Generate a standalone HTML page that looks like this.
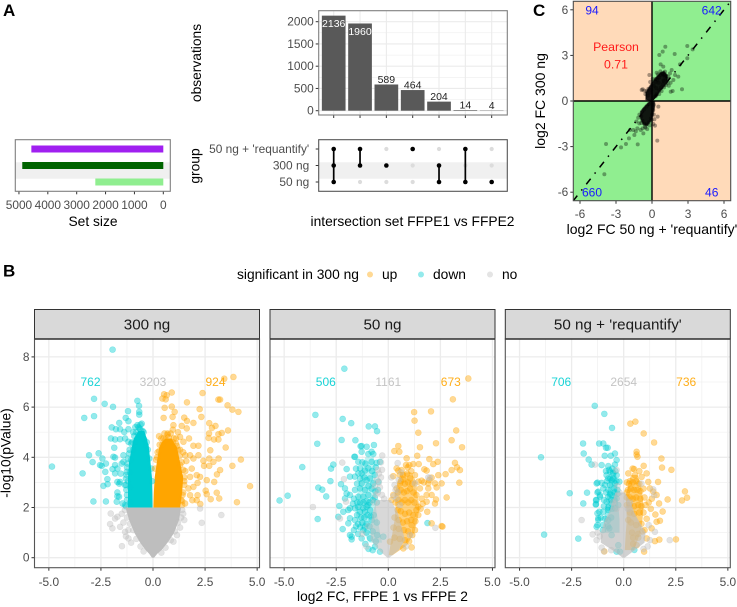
<!DOCTYPE html>
<html lang="en">
<head>
<meta charset="utf-8">
<title>FFPE proteomics comparison figure</title>
<style>
html,body{margin:0;padding:0;background:#fff;}
svg{display:block;font-family:"Liberation Sans",Arial,sans-serif;}
.tick{fill:#4d4d4d;font-size:11.9px;}
.title{fill:#000;font-size:13.8px;}
.tag{fill:#000;font-size:17px;font-weight:bold;}
.strip{fill:#1a1a1a;font-size:15.2px;}
</style>
</head>
<body>
<svg id="figure" width="737" height="607" viewBox="0 0 737 607" xmlns="http://www.w3.org/2000/svg">
  <defs>
    <clipPath id="clip-c"><rect x="573.3" y="1.3" width="157.4" height="199.4"/></clipPath>
  </defs>
  <rect width="737" height="607" fill="#fff"/>

  <text class="tag" x="3" y="16">A</text>
  <text class="tag" x="3" y="276.7">B</text>
  <text class="tag" x="533" y="16">C</text>

  <g id="upset-bars"></g>
  <text class="title" transform="translate(201,63) rotate(-90)" text-anchor="middle">observations</text>

  <g id="upset-matrix"></g>
  <text class="title" transform="translate(199.5,166) rotate(-90)" text-anchor="middle">group</text>
  <text class="title" x="412.5" y="226" text-anchor="middle">intersection set FFPE1 vs FFPE2</text>

  <g id="set-size"></g>
  <text class="title" x="93" y="226" text-anchor="middle">Set size</text>

  <g id="scatter-c"></g>
  <text class="title" transform="translate(545,101) rotate(-90)" text-anchor="middle" style="font-size:14px">log2 FC 300 ng</text>
  <text class="title" x="652" y="234" text-anchor="middle" style="font-size:14px">log2 FC 50 ng + 'requantify'</text>

  <g>
    <text class="title" x="237" y="279">significant in 300 ng</text>
    <circle cx="370" cy="274.5" r="3" fill="#ffa500" fill-opacity=".42"/>
    <text class="title" x="382" y="279">up</text>
    <circle cx="421" cy="274.5" r="3" fill="#00ced1" fill-opacity=".42"/>
    <text class="title" x="433" y="279">down</text>
    <circle cx="490" cy="274.5" r="3" fill="#bebebe" fill-opacity=".42"/>
    <text class="title" x="502" y="279">no</text>
  </g>

  <g>
    <rect x="34.5" y="309.5" width="225" height="29.5" fill="#d9d9d9" stroke="#333" stroke-width="1"/>
    <text class="strip" x="147" y="329.5" text-anchor="middle">300 ng</text>
  </g>
  <g>
    <rect x="270" y="309.5" width="225" height="29.5" fill="#d9d9d9" stroke="#333" stroke-width="1"/>
    <text class="strip" x="382.5" y="329.5" text-anchor="middle">50 ng</text>
  </g>
  <g>
    <rect x="505.3" y="309.5" width="225" height="29.5" fill="#d9d9d9" stroke="#333" stroke-width="1"/>
    <text class="strip" x="617.8" y="329.5" text-anchor="middle">50 ng + 'requantify'</text>
  </g>

  <g id="volcano-1"></g>
  <g id="volcano-2"></g>
  <g id="volcano-3"></g>

  <text class="title" transform="translate(10.5,453) rotate(-90)" text-anchor="middle">-log10(pValue)</text>
  <text class="title" x="382.5" y="601" text-anchor="middle">log2 FC, FFPE 1 vs FFPE 2</text>
</svg>

<script>
// ---------- Panel A data ----------
const upsetValues = [2136, 1960, 589, 464, 204, 14, 4];
const upsetYTicks = [0, 500, 1000, 1500, 2000];
const groupNames = ["50 ng + 'requantify'", "300 ng", "50 ng"];
const upsetMembership = [[0,1,2],[0,1],[1],[0],[1,2],[0,2],[2]];
const setSizes = [4570, 4885, 2355];
const setColors = ['#a020f0', '#006400', '#90ee90'];
const setSizeTicks = [5000, 4000, 3000, 2000, 1000, 0];

// ---------- Panel C data ----------
const scatterTicks = [-6, -3, 0, 3, 6];
const quadrantCounts = [94, 642, 660, 46];
const pearsonLabel = 'Pearson';
const pearsonValue = '0.71';
const scatterPoints = [[1.11,3.57],[.61,3.03],[.89,3.25],[1.89,3.09],[2.94,3.62],[3.39,3.4],[2.33,2.41],[2.94,2.81],[2.5,.77],[1.56,.61],[1.72,.66],[2.19,1.6],[1.92,1.71],[1.5,1.82],[1.64,2.04],[.72,2.41],[.94,2.26],[.39,1.86],[1.08,1.93],[1.36,1.6],[1.78,1.38],[-.86,.72],[-.64,.68],[-.78,.77],[-.22,1.71],[-3.83,-2.83],[-3.97,-4.82],[-2.58,-3.05],[-2.17,-2.83],[-1.19,-2.85],[-1.92,-2.46],[-1.47,-2.24],[-1.56,-1.91],[-1.22,-1.8],[-.72,-2.13],[-.78,-1.8],[.44,-2.61],[.47,-1.03],[.25,-1.62],[.11,-1.51],[.53,-.37],[-1.83,-1.91],[-1.06,-1.47],[-.94,-1.91],[-.58,-1.69],[-.03,-1.25],[-1.3,-1.35],[-1.15,-1.1],[-.9,-1.45],[-.4,-1.85],[-.2,-1.6],[-1.35,-2.0],[.15,-.9],[.2,-1.2],[-.55,.45],[-.45,.65],[-.3,.8],[-.15,1.25],[.05,1.45],[.3,1.45],[.5,1.75],[.7,1.95],[.85,1.8],[1.05,1.7],[1.2,1.45],[1.3,1.2],[1.15,1.05],[1.0,.9],[.8,.65],[.6,.45],[1.4,1.0],[1.55,1.2],[.95,1.35],[.35,.35],[-.35,.35],[-.2,.55],[-.05,.75],[.15,1.0],[.3,1.25],[.45,1.4],[.6,1.55],[.75,1.7],[.9,1.75],[1.05,1.6],[1.2,1.65],[1.3,1.45],[.9,1.1],[.75,.9],[.6,.7],[.4,.45],[.25,.3],[1.0,1.3],[.55,1.2],[.35,.85],[-.9,-1.0],[-.8,-1.3],[-.65,-1.5],[-.45,-1.55],[-.25,-1.4],[-.1,-1.15],[-.65,-.55],[-.45,-.35],[-.25,-.2],[0,-.9],[.1,-.6],[.15,-.25],[-1.05,-.9],[-.55,-1.75]];
const scatterCoreUpperFc = [-.5, -.2, .1, .4, .7, 1.0, 1.25];
const scatterCoreUpperLow = [.1, .02, .1, .35, .7, .95, 1.2];
const scatterCoreUpperHigh = [.55, .95, 1.3, 1.6, 1.85, 1.95, 1.7];
const scatterCoreLowerFc = [-.95, -.7, -.4, -.15, .05, .2];
const scatterCoreLowerLow = [-1.15, -1.55, -1.6, -1.35, -1, -.4];
const scatterCoreLowerHigh = [-.7, -.45, -.2, -.02, 0, -.05];

// ---------- Panel B data ----------
const volcanoXTicks = [-5, -2.5, 0, 2.5, 5];
const volcanoYTicks = [0, 2, 4, 6, 8];
const countsPanel1 = ['762', '3203', '924'];
const countsPanel2 = ['506', '1161', '673'];
const countsPanel3 = ['706', '2654', '736'];

const p1Down = [[-1.94,8.29],[-2.83,6.33],[-2.32,6.13],[-1.92,6.01],[-3.3,5.57],[-2.83,5.64],[-4.85,3.63],[-3.38,3.36],[-3.07,4.08],[-2.9,3.81],[-2.61,4.16],[-2.43,3.95],[-2.54,3.69],[-2.46,3.66],[-2.26,3.75],[-2.29,3.42],[-2.19,3.13],[-2.18,2.93],[-2.38,2.86],[-2.86,2.24],[-2.26,2.24],[-1.71,2.6],[-1.71,2.45],[-1.82,3.69],[-1.86,4.38],[-2.02,4.75],[-1.82,4.71],[-1.58,4.72],[-1.98,5.19],[-1.78,5.12],[-1.58,5.12],[-1.62,5.37],[-1.31,5.57],[-1.18,5.44],[-1.2,5.84],[-1.18,5.12],[-1.38,5.01],[-.75,6.25],[-.67,6.05],[-.66,5.81],[-.66,5.7],[-.54,5.34],[-.75,5.28],[-1.9,4.02],[-1.82,3.99],[-1.71,3.55],[-1.94,3.53],[-1.82,3.36],[-1.71,3.02],[-1.58,3.02],[-1.74,2.23],[-1.63,2.43],[-1.42,4.08],[-1.34,4.75],[-1.18,4.62],[-1.42,3.82],[-1.26,3.42],[-1.34,2.89],[-1.46,2.16],[-1.34,2.1],[-1.25,2.3],[-1.28,2.7],[-1.3,3.15],[-1.22,3.75],[-1.15,4.15],[-1.05,4.55],[-.95,5.0],[-.85,5.2],[-.65,5.15],[-.5,5.05],[-.42,4.7],[-.35,4.45],[-1.55,3.35],[-1.5,3.75],[-1.62,2.95],[-1.2,3.05],[-.18,3.95],[-.08,3.55],[-.05,3.05],[-1.3,2.05],[-1.25,2.5],[-1.3,2.9],[-1.28,3.3],[-1.25,3.6],[-1.2,3.95],[-1.12,4.3],[-1.0,4.6],[-.9,4.85],[-.8,5.0],[-.6,5.3],[-.45,5.0],[-.3,4.6],[-.25,4.3],[-1.1,2.2],[-1.1,2.8],[-1.1,3.4],[-1.05,3.9],[-.95,4.3],[-.85,4.6],[-.7,4.9],[-.55,4.8],[-.6,5.1],[-.7,5.2]];
const p1DownCoreP = [2, 2.6, 3.2, 3.8, 4.4, 4.75, 5.05];
const p1DownCoreLeft = [-1.2, -1.2, -1.2, -1.15, -1.02, -.92, -.7];
const p1DownCoreRight = [-.02, -.03, -.05, -.12, -.2, -.3, -.42];
const p1Up = [[3.86,7.2],[3.42,7.13],[.9,6.58],[.53,6.51],[2.38,6.56],[.45,6.34],[.61,6.31],[.66,6.47],[1.63,6.19],[3.14,6.3],[3.22,6.3],[2.24,5.92],[3.58,6.07],[3.81,5.9],[4.1,5.81],[.56,5.97],[.9,6.02],[1.04,5.81],[.94,5.61],[.51,5.57],[2.32,5.61],[1.5,5.58],[1.63,5.45],[1.94,5.37],[1.38,5.25],[.98,5.28],[2.7,5.36],[3.0,5.25],[2.83,5.17],[3.6,5.07],[2.69,4.95],[3.14,4.92],[3.3,4.97],[2.67,4.77],[2.93,4.71],[3.14,4.71],[.29,4.84],[1.62,5.15],[1.73,4.75],[1.94,4.46],[2.18,4.46],[3.49,4.39],[2.75,4.28],[3.15,3.95],[4.22,3.91],[2.7,3.95],[2.42,3.86],[2.45,3.66],[2.7,3.66],[2.9,3.82],[3.22,3.49],[3.07,3.32],[3.81,3.66],[2.18,4.08],[1.94,3.95],[1.78,4.08],[1.55,4.08],[1.86,3.55],[2.1,3.29],[2.26,3.22],[2.58,3.09],[2.14,2.98],[1.94,2.82],[1.78,3.22],[2.94,3.02],[4.66,2.85],[2.53,2.67],[2.58,2.53],[3.06,2.59],[3.18,2.36],[2.77,2.33],[4.03,2.21],[2.27,2.14],[2.14,2.49],[2.1,2.29],[1.78,2.49],[1.89,2.29],[1.54,2.16],[1.7,2.76],[1.46,4.62],[1.3,4.81],[1.2,5.0],[1.1,4.75],[.95,5.1],[.7,4.95],[.5,4.75],[1.45,4.2],[1.6,3.85],[1.55,3.45],[1.5,3.05],[1.45,2.6],[1.4,2.25],[.2,4.0],[1.15,4.45],[1.3,4.3],[.1,3.55],[.15,3.9],[.22,4.2],[.32,4.5],[.4,4.75],[.55,4.95],[.7,4.9],[.85,4.95],[1.0,4.75],[1.1,4.55],[1.2,4.3],[1.28,4.05],[1.38,3.8],[1.45,3.5],[1.5,3.2],[1.5,2.9],[1.42,2.5],[1.4,2.1],[1.35,2.3],[1.3,3.7],[.95,4.6],[.75,4.8],[.6,4.7],[.45,4.5],[.3,4.25]];
const p1UpCoreP = [2, 2.6, 3.2, 3.6, 4, 4.4, 4.6, 4.75];
const p1UpCoreLeft = [.02, .04, .08, .15, .22, .3, .42, .6];
const p1UpCoreRight = [1.3, 1.4, 1.45, 1.35, 1.25, 1.15, 1.0, .9];
const p1No = [[-2.03,1.76],[-2.06,1.34],[-1.95,1.17],[-1.49,.46],[-1.71,1.63],[-1.58,1.23],[-1.82,1.56],[-1.34,1.03],[-1.18,1.1],[2.26,1.96],[2.34,1.39],[3.28,1.7],[.98,.64],[-1.18,.77],[-1.5,1.75],[-1.42,1.4],[-1.3,.85],[-1.05,.6],[1.45,1.75],[1.5,1.5],[1.3,1.2],[1.15,.9],[-1.35,1.9],[-1.25,1.6],[-1.1,1.35],[-.95,1.1],[-.8,.75],[-.6,.45],[-.45,.25],[1.4,1.9],[1.35,1.6],[1.2,1.4],[1.05,1.05],[.85,.7],[.6,.4],[.4,.2]];
const p1NoCoreP = [0, .15, .31, .6, .97, 1.5, 2];
const p1NoCoreLeft = [-.05, -.18, -.36, -.62, -.88, -1.15, -1.32];
const p1NoCoreRight = [.05, .2, .42, .7, 1.0, 1.25, 1.35];

const p2Down = [[-2.11,7.53],[-3.5,5.69],[-2.19,5.53],[-1.78,5.36],[-.94,5.23],[-.64,5.23],[-.54,5.04],[-2.24,4.69],[-1.58,4.68],[-3.41,4.54],[-1.33,4.44],[-1.04,4.42],[-4.13,3.61],[-2.64,3.71],[-2.75,3.55],[-2.78,3.05],[-3.36,2.79],[-3.17,2.71],[-2.98,2.44],[-5.22,2.28],[-4.83,2.47],[-3.39,1.54],[-2.27,2.93],[-1.63,4.02],[-1.28,4.22],[-.8,4.22],[-1.6,4.02],[-1.44,3.82],[-1.28,4.45],[-.96,4.13],[-.69,4.49],[-.72,4.13],[-.8,3.82],[-.56,3.78],[-.4,3.82],[-1.36,3.56],[-1.44,3.36],[-1.28,3.36],[-1.12,3.47],[-.96,3.56],[-1.84,3.23],[-1.6,3.23],[-2.0,3.53],[-2.08,2.76],[-2,2.56],[-2.08,2.36],[-1.84,2.5],[-1.6,2.7],[-1.36,2.76],[-1.12,2.7],[-1.44,2.43],[-1.2,2.43],[-.96,2.5],[-.72,2.96],[-.48,3.03],[-1.04,3.09],[-.88,3.16],[-1.28,2.96],[-2.35,2.06],[-1.84,1.97],[-2.16,1.83],[-2.4,1.63],[-1.92,1.9],[-1.6,1.97],[-1.44,2.03],[-1.2,1.97],[-1.04,2.03],[-.88,1.9],[-1.12,1.83],[-1.36,1.83],[-.96,2.1],[-1.84,1.57],[-1.92,1.37],[-1.6,1.5],[-2.19,1.14],[-1.76,.84],[-1.84,.9],[-1.76,.73],[-1.36,1.21],[-1.2,1.1],[-.88,.77],[-1.28,.77],[-.4,.24],[-.64,.44],[-.53,.9],[-.8,1.5],[-1.12,1.24],[-.24,.84],[1.88,1.38],[-1.5,2.2],[-1.35,2.2],[-1.2,2.2],[-1.05,2.25],[-.9,2.2],[-.75,2.3],[-.65,2.4],[-1.5,1.7],[-1.3,1.6],[-1.15,1.6],[-1,1.7],[-.85,1.65],[-.7,1.7],[-1.45,1.35],[-1.25,1.4],[-1.05,1.35],[-.9,1.25],[-1.5,2.95],[-1.35,3.15],[-1.15,3.2],[-.95,2.85],[-.8,2.75],[-.62,2.65],[-.65,3.3],[-.78,3.45],[-.6,3.6],[-1.1,3.75],[-1.25,3.8],[-1.55,3.55],[-1.65,2.35],[-1.7,2.15],[-1.55,1.25],[-1.65,1.1],[-1.45,.95],[-1.05,1.0],[-.75,1.05],[-.6,.65],[-1.1,.55],[-.95,.35],[-.75,.3],[-.55,2.2],[-.5,2.7],[-.55,1.4]];
const p2DownCoreP = [.6, 1, 1.5, 2, 2.5, 3, 3.5, 4];
const p2DownCoreLeft = [-.9, -1.2, -1.5, -1.6, -1.5, -1.4, -1.3, -1.1];
const p2DownCoreRight = [-.3, -.4, -.5, -.6, -.6, -.6, -.6, -.7];
const p2Up = [[3.84,7.14],[3.1,6.31],[1.24,5.8],[2.05,5.83],[1.26,5.46],[3.26,5.07],[1.44,4.98],[3.04,4.68],[2.29,4.56],[3.54,4.4],[1.52,4.4],[.48,4.45],[.29,4.25],[.53,4.22],[.88,3.96],[1.39,4.06],[1.97,3.93],[2.16,3.73],[2.37,3.82],[.85,3.69],[1.01,3.69],[1.2,3.73],[1.46,3.73],[.4,3.56],[.48,3.47],[.24,3.25],[.64,3.49],[.93,3.6],[1.28,3.29],[1.73,3.52],[1.84,3.47],[2.75,3.33],[3.04,3.49],[3.2,3.78],[3.3,3.6],[3.44,3.49],[3.41,2.99],[2.4,3.29],[2.08,3.19],[1.97,3.09],[1.6,3.07],[1.71,3.0],[1.92,2.96],[2.24,2.96],[2.56,2.96],[2.32,2.8],[1.92,2.76],[1.84,2.5],[2.08,2.5],[2.29,2.32],[2.24,2.16],[2.8,2.4],[1.84,2.23],[1.44,3.03],[1.52,2.76],[1.04,3.16],[.72,3.12],[.56,2.96],[.4,2.76],[.24,2.5],[.16,2.3],[1.44,2.03],[1.87,1.83],[2.08,1.37],[2.56,1.26],[1.12,.41],[.72,.37],[.08,.64],[1.28,1.1],[1.44,1.7],[1.12,1.3],[2.6,1.24],[.35,2.2],[.5,2.3],[.65,2.2],[.8,2.3],[.95,2.2],[1.1,2.3],[1.25,2.2],[.45,1.9],[.6,1.85],[.8,1.75],[1,1.8],[1.2,1.7],[.3,1.6],[.5,1.5],[.7,1.4],[.9,1.45],[1.1,1.5],[1.3,1.45],[.25,1.2],[.5,1.15],[.75,1.1],[.95,1.05],[1.15,.9],[.3,.8],[.55,.75],[.8,.7],[1.0,.65],[.45,2.6],[.6,2.7],[.75,2.6],[.9,2.65],[1.05,2.75],[1.2,2.6],[1.35,2.5],[.6,3.05],[.8,2.95],[.95,3.0],[1.15,2.95],[.7,3.3],[.9,3.35],[1.1,3.45],[.55,3.3],[1.6,2.35],[1.65,2.15],[1.55,1.95],[1.35,1.9]];
const p2UpCoreP = [.1, .5, 1, 1.5, 2, 2.5, 3, 3.4];
const p2UpCoreLeft = [.02, .1, .2, .3, .35, .3, .45, .6];
const p2UpCoreRight = [.2, .9, 1.25, 1.4, 1.5, 1.4, 1.35, 1.1];
const p2No = [[-3.62,2.02],[-2.21,3.79],[-2.13,3.13],[-2.03,2.23],[-.29,4.07],[.45,3.77],[-2.32,1.56],[2.26,1.19],[1.92,3.2],[2,3.18],[1.28,2.96],[-.45,3.35],[.15,3.2],[-1.25,.95],[-1.05,.45],[-.95,1.25],[1.05,.9],[.85,.45],[-.5,2.6],[-.4,2.8],[-.45,3.0],[-.35,3.2],[-.55,3.1],[-.3,3.5],[-.5,3.5],[-.35,3.8],[-.65,2.85],[-.6,2.5],[.3,2.9],[.35,2.7],[.45,2.6],[.5,3.1],[.6,3.4],[.25,2.45],[.4,2.35],[-.3,2.5],[-.2,2.35],[-.7,2.2],[.55,2.1]];
const p2NoCoreP = [0, .3, .7, 1.2, 1.8, 2.3];
const p2NoCoreLeft = [-.05, -.45, -.85, -.85, -.75, -.55];
const p2NoCoreRight = [.05, .5, .8, .65, .45, .12];

const p3Down = [[-1.39,6.05],[-.93,5.73],[-.56,5.17],[-1.95,4.55],[-1.18,4.55],[-.98,4.55],[-.85,4.38],[-.77,4.38],[-3.97,4],[-1.92,4.15],[-.91,4.06],[-.62,4.06],[-.42,4.15],[-1.68,3.91],[-1.54,3.71],[-1.06,3.69],[-.42,3.71],[-.34,3.89],[-2.59,2.57],[-1.76,2.59],[-1.3,2.96],[-1.06,2.98],[-1.26,2.6],[-1.14,2.49],[-1.94,2.16],[-1.31,2.29],[-1.34,2.12],[-3.82,.92],[-2.18,.76],[-1.26,1.77],[-1.22,1.5],[-1.3,1.23],[-.74,3.65],[-.66,3.43],[-.82,3.29],[-.5,3.36],[-.74,3.16],[-.58,3.09],[-.34,3.29],[-1.26,2.99],[-.9,2.9],[-.66,2.9],[-.42,2.96],[-.21,3.03],[-.46,2.76],[-.3,2.7],[-.74,2.7],[-.98,2.76],[-1.22,2.63],[-1.14,2.43],[-.74,2.43],[-.58,2.5],[-.34,2.36],[-1.33,2.3],[-1.33,2.14],[-.82,2.23],[-.58,2.16],[-.26,2.1],[-1.17,1.83],[-.98,1.83],[-.74,1.9],[-.42,1.97],[-1.22,1.57],[-1.26,1.3],[-.69,1.17],[-.58,.9],[-.26,.5],[-.34,.24],[-.18,.24],[.51,.31],[-.74,1.5],[-.85,3.45],[-.7,3.5],[-.55,3.55],[-.4,3.45],[-.8,3.05],[-.65,3.15],[-.5,3.15],[-.35,3.05],[-.85,2.6],[-.65,2.55],[-.45,2.6],[-.3,2.55],[-.95,2.3],[-.6,2.3],[-.45,2.3],[-.95,2.05],[-.75,2.0],[-.55,1.95],[-1.1,1.6],[-.9,1.55],[-.6,1.6],[-1.0,1.3],[-.75,1.25],[-1.0,1.1]];
const p3DownCoreP = [1, 1.5, 2, 2.5, 3, 3.5];
const p3DownCoreLeft = [-.9, -.95, -.85, -.8, -.7, -.65];
const p3DownCoreRight = [-.2, -.2, -.25, -.3, -.3, -.4];
const p3Up = [[.32,5.34],[.56,5.42],[.96,4.95],[1.46,4.59],[.62,4.22],[.62,4.11],[.66,4.02],[1.81,3.95],[1.84,3.59],[2.29,3.5],[.96,3.66],[.43,3.55],[.5,3.53],[.75,3.45],[.22,3.36],[.54,3.29],[.86,3.22],[1.1,3.36],[1.65,3.02],[2.94,2.64],[3.04,2.39],[2.8,2.28],[2.11,2.32],[1.87,1.84],[1.7,2.16],[1.58,2.5],[1.42,2.63],[1.26,2.76],[1.18,3.02],[1.52,1.72],[1.74,1.47],[1.58,1.43],[1.34,1.17],[1.71,.72],[1.5,.66],[2.51,.73],[.98,.24],[-.93,.25],[.62,.5],[1.1,.77],[.22,1.5],[1.2,2.2],[1.3,1.95],[1.1,1.55],[1.35,2.35],[.25,2.95],[.15,2.6],[.9,1.05],[.7,.95],[.45,.8],[.15,3.0],[.3,3.05],[.45,3.0],[.6,3.05],[.75,2.95],[.2,2.7],[.35,2.75],[.5,2.7],[.65,2.7],[.8,2.65],[.95,2.75],[.15,2.4],[.3,2.4],[.45,2.35],[.6,2.4],[.8,2.35],[1,2.4],[.15,2.1],[.3,2.1],[.5,2.05],[.7,2.1],[.85,2.05],[1.05,2.1],[.3,1.8],[.5,1.75],[.75,1.8],[.95,1.8],[.35,1.4],[.6,1.3],[.85,1.35],[1.0,1.1],[.4,1.0],[.7,.8],[.45,.55]];
const p3UpCoreP = [.3, 1, 1.5, 2, 2.5, 3, 3.3];
const p3UpCoreLeft = [.05, .1, .15, .12, .1, .25, .35];
const p3UpCoreRight = [.5, .8, .9, .95, .9, .8, .65];
const p3No = [[-2.02,1.5],[-1.49,.93],[-1.3,.7],[2.21,.7],[-1.06,.4],[1.42,2.72],[-.34,3.49],[-1.38,3.71],[1.26,.7],[1.5,1.03],[1.46,2.49],[-1.25,1.0],[-1.15,.85],[.85,2.95],[1.2,1.3],[-.6,.3],[-.3,2.85],[-.2,2.6],[-.5,2.2],[-.35,1.95],[.3,2.2],[.2,1.95],[1.15,.45],[.95,.35],[-.95,.25]];
const p3NoCoreP = [0, .25, .6, 1, 1.5, 1.8, 2.2, 2.6];
const p3NoCoreLeft = [-.05, -.45, -1.1, -1.1, -.9, -.7, -.55, -.4];
const p3NoCoreRight = [.05, .45, 1.0, 1.05, .7, .5, .35, .05];

// ---------- Helpers ----------
const NS = 'http://www.w3.org/2000/svg';
function make(tag, attrs, parent) {
  const el = document.createElementNS(NS, tag);
  for (const k in attrs) el.setAttribute(k, attrs[k]);
  parent.appendChild(el);
  return el;
}
function label(str, attrs, parent) {
  const el = make('text', attrs, parent);
  el.textContent = str;
  return el;
}
function gridLine(parent, x1, y1, x2, y2, w, color) {
  const el = make('line', {x1, y1, x2, y2, stroke: color || '#ebebeb', 'stroke-width': w}, parent);
  
  
}
function tickLine(parent, x1, y1, x2, y2) {
  const el = make('line', {x1, y1, x2, y2, stroke: '#333', 'stroke-width': 1}, parent);
  
  
}
function tickLabel(parent, str, x, y, anchor) {
  const el = label(str, {x, y, 'text-anchor': anchor, class: 'tick'}, parent);
  
  
}
function border(parent, x, y, w, h, color) {
  const el = make('rect', {x, y, width: w, height: h, fill: 'none', stroke: color, 'stroke-width': 1.1}, parent);
  
  
}

// ---------- Upset: bars ----------
(function () {
  const g = document.getElementById('upset-bars');
  const L = 318.7, R = 507.3, T = 10.7, B = 115;
  const xBar = i => 333.7 + i * 26.33;
  const yVal = v => 110.7 - v * 0.0445;
  upsetYTicks.forEach((t, i) => {
    gridLine(g, L, yVal(t), R, yVal(t), 1.1);
    if (i < upsetYTicks.length - 1) gridLine(g, L, yVal(t + 250), R, yVal(t + 250), .5);
  });
  upsetValues.forEach((v, i) => gridLine(g, xBar(i), T, xBar(i), B, 1.1));
  upsetValues.forEach((v, i) => {
    const bar = make('rect', {x: xBar(i) - 11.85, y: yVal(v), width: 23.7, height: Math.max(yVal(0) - yVal(v), .3), fill: '#595959'}, g);
    
    
    const inside = v > 1000;
    const t = label(String(v), {x: xBar(i), y: inside ? yVal(v) + 11.5 : yVal(v) - 1.6, 'text-anchor': 'middle', 'font-size': 10.5, fill: inside ? '#fff' : '#222'}, g);
    
    
  });
  upsetYTicks.forEach(t => {
    tickLine(g, L - 3, yVal(t), L, yVal(t));
    tickLabel(g, String(t), L - 5, yVal(t) + 4, 'end');
  });
  upsetValues.forEach((v, i) => tickLine(g, xBar(i), B, xBar(i), B + 3));
  border(g, L, T, R - L, B - T, '#7f7f7f');
})();

// ---------- Upset: matrix ----------
(function () {
  const g = document.getElementById('upset-matrix');
  const L = 318.7, R = 507.3, T = 139.7, B = 191.3;
  const xCol = i => 333.7 + i * 26.33;
  const yRow = r => 149 + r * 16.5;
  const band = make('rect', {x: L, y: 162.3, width: R - L, height: 16.4, fill: '#f0f0f0'}, g);
  
  
  upsetMembership.forEach((members, i) => {
    groupNames.forEach((n, r) => {
      const on = members.indexOf(r) >= 0;
      const dot = make('circle', {cx: xCol(i), cy: yRow(r), r: on ? 2.3 : 2.1, fill: on ? '#000' : '#dcdcdc'}, g);
      
      
    });
    if (members.length > 1) {
      const link = make('line', {x1: xCol(i), x2: xCol(i), y1: yRow(members[0]), y2: yRow(members[members.length - 1]), stroke: '#000', 'stroke-width': 1.7}, g);
      
      
    }
  });
  groupNames.forEach((n, r) => {
    tickLine(g, L - 3, yRow(r), L, yRow(r));
    tickLabel(g, n, L - 9.5, yRow(r) + 4, 'end');
  });
  border(g, L, T, R - L, B - T, '#555');
})();

// ---------- Upset: set sizes ----------
(function () {
  const g = document.getElementById('set-size');
  const L = 15.3, R = 170.3, T = 139.7, B = 191.3;
  const xVal = v => 163.3 - v * 0.02887;
  const yRow = r => 149 + r * 16.5;
  const band = make('rect', {x: L, y: 162.3, width: R - L, height: 16.4, fill: '#f0f0f0'}, g);
  
  
  setSizes.forEach((v, r) => {
    const bar = make('rect', {x: xVal(v), y: yRow(r) - 3.5, width: xVal(0) - xVal(v), height: 7, fill: setColors[r]}, g);
    
    
  });
  setSizeTicks.forEach(t => {
    tickLine(g, xVal(t), B, xVal(t), B + 3);
    tickLabel(g, String(t), xVal(t), 209, 'middle');
  });
  border(g, L, T, R - L, B - T, '#7f7f7f');
})();

// ---------- Scatter C ----------
(function () {
  const g = document.getElementById('scatter-c');
  const L = 573.3, R = 730.7, T = 1.3, B = 200.7;
  const xs = v => 652 + v * 12;
  const ys = v => 101 - v * 15.2;
  const quads = [
    [L, T, xs(0) - L, ys(0) - T, '#ffdab9'],
    [xs(0), T, R - xs(0), ys(0) - T, '#90ee90'],
    [L, ys(0), xs(0) - L, B - ys(0), '#90ee90'],
    [xs(0), ys(0), R - xs(0), B - ys(0), '#ffdab9']
  ];
  quads.forEach(q => {
    const r = make('rect', {x: q[0], y: q[1], width: q[2], height: q[3], fill: q[4]}, g);
    
    
  });
  const clip = make('g', {'clip-path': 'url(#clip-c)'}, g);
  const diag = make('line', {x1: xs(-7), y1: ys(-7), x2: xs(7), y2: ys(7), stroke: '#000', 'stroke-width': 1.5, 'stroke-dasharray': '1.5 6.5 7 6.5'}, clip);
  
  
  function blob(fc, low, high) {
    const top = fc.map((x, i) => xs(x) + ',' + ys(high[i]));
    const bottom = fc.map((x, i) => xs(x) + ',' + ys(low[i])).reverse();
    const el = make('polygon', {points: top.concat(bottom).join(' '), fill: '#0a0a0a', 'fill-opacity': .95, stroke: '#0a0a0a', 'stroke-width': 1.5, 'stroke-opacity': .6}, clip);
    
    
  }
  blob(scatterCoreUpperFc, scatterCoreUpperLow, scatterCoreUpperHigh);
  blob(scatterCoreLowerFc, scatterCoreLowerLow, scatterCoreLowerHigh);
  scatterPoints.forEach(p => {
    const c = make('circle', {cx: xs(p[0]), cy: ys(p[1]), r: 2, fill: '#000', 'fill-opacity': .35}, clip);
    
    
  });
  const hline = make('line', {x1: L, x2: R, y1: ys(0), y2: ys(0), stroke: '#000', 'stroke-width': 1.4}, g);
  
  
  const vline = make('line', {x1: xs(0), x2: xs(0), y1: T, y2: B, stroke: '#000', 'stroke-width': 1.4}, g);
  
  
  const spots = [[592, 14.5], [711.7, 14.5], [592, 196.7], [711.7, 196.7]];
  quadrantCounts.forEach((n, i) => {
    const t = label(String(n), {x: spots[i][0], y: spots[i][1], 'text-anchor': 'middle', 'font-size': 12, fill: '#1a1aff'}, g);
    
    
  });
  const pl = label(pearsonLabel, {x: 616, y: 51, 'text-anchor': 'middle', 'font-size': 12.3, fill: '#ff1a1a'}, g);
  
  
  const pv = label(pearsonValue, {x: 616, y: 68.5, 'text-anchor': 'middle', 'font-size': 12.3, fill: '#ff1a1a'}, g);
  
  
  scatterTicks.forEach(t => {
    tickLine(g, xs(t), B, xs(t), B + 3);
    tickLabel(g, String(t), xs(t), 218, 'middle');
    tickLine(g, L - 3, ys(t), L, ys(t));
    tickLabel(g, String(t), L - 5, ys(t) + 4, 'end');
  });
  border(g, L, T, R - L, B - T, '#4d4d4d');
})();

// ---------- Volcano panels ----------
const COL_UP = '#ffa500', COL_DOWN = '#00ced1', COL_NO = '#bebebe';
function drawVolcano(id, left, zero, showY, down, up, no, cores, counts, coreAlpha) {
  const g = document.getElementById(id);
  const width = 225, T = 339, B = 567.7, R = left + width;
  const xs = v => zero + v * 20.83;
  const ys = v => 557.7 - v * 25.1;
  volcanoXTicks.forEach((t, i) => {
    gridLine(g, xs(t), T, xs(t), B, 1.3, '#ececec');
    if (i < volcanoXTicks.length - 1) gridLine(g, xs(t + 1.25), T, xs(t + 1.25), B, .7, '#f0f0f0');
  });
  volcanoYTicks.forEach((t, i) => {
    gridLine(g, left, ys(t), R, ys(t), 1.3, '#ececec');
    if (i < volcanoYTicks.length - 1) gridLine(g, left, ys(t + 1), R, ys(t + 1), .7, '#f0f0f0');
  });
  function core(pv, lv, rv, color, alpha) {
    const a = pv.map((p, i) => xs(lv[i]) + ',' + ys(p));
    const b = pv.map((p, i) => xs(rv[i]) + ',' + ys(p)).reverse();
    const el = make('polygon', {points: a.concat(b).join(' '), fill: color, 'fill-opacity': alpha}, g);
    
    
  }
  function dots(list, color) {
    list.forEach(p => {
      const c = make('circle', {cx: xs(p[0]), cy: ys(p[1]), r: 3, fill: color, 'fill-opacity': .42, stroke: color, 'stroke-opacity': .35, 'stroke-width': .6}, g);
      
      
    });
  }
  core(cores.down[0], cores.down[1], cores.down[2], COL_DOWN, coreAlpha[0]);
  core(cores.up[0], cores.up[1], cores.up[2], COL_UP, coreAlpha[1]);
  dots(down, COL_DOWN);
  dots(up, COL_UP);
  core(cores.no[0], cores.no[1], cores.no[2], COL_NO, coreAlpha[2]);
  dots(no, COL_NO);
  [[-3, COL_DOWN], [0, COL_NO], [3, COL_UP]].forEach((c, i) => {
    const t = label(counts[i], {x: xs(c[0]), y: ys(7) + 4.2, 'text-anchor': 'middle', 'font-size': 12, fill: c[1], 'fill-opacity': .9}, g);
    
    
  });
  volcanoXTicks.forEach(t => {
    tickLine(g, xs(t), B, xs(t), B + 3);
    tickLabel(g, t.toFixed(1), xs(t), 586, 'middle');
  });
  if (showY) {
    volcanoYTicks.forEach(t => {
      tickLine(g, left - 3, ys(t), left, ys(t));
      tickLabel(g, String(t), left - 5, ys(t) + 4, 'end');
    });
  }
  border(g, left, T, width, B - T, '#555');
  const top = make('line', {x1: left, x2: R, y1: T, y2: T, stroke: '#333', 'stroke-width': 1.4}, g);
  
  
}

drawVolcano('volcano-1', 34.5, 153, true, p1Down, p1Up, p1No, {
  down: [p1DownCoreP, p1DownCoreLeft, p1DownCoreRight],
  up: [p1UpCoreP, p1UpCoreLeft, p1UpCoreRight],
  no: [p1NoCoreP, p1NoCoreLeft, p1NoCoreRight]
}, countsPanel1, [1, 1, 1]);

drawVolcano('volcano-2', 270, 388.3, false, p2Down, p2Up, p2No, {
  down: [p2DownCoreP, p2DownCoreLeft, p2DownCoreRight],
  up: [p2UpCoreP, p2UpCoreLeft, p2UpCoreRight],
  no: [p2NoCoreP, p2NoCoreLeft, p2NoCoreRight]
}, countsPanel2, [.25, .5, .6]);

drawVolcano('volcano-3', 505.3, 623.7, false, p3Down, p3Up, p3No, {
  down: [p3DownCoreP, p3DownCoreLeft, p3DownCoreRight],
  up: [p3UpCoreP, p3UpCoreLeft, p3UpCoreRight],
  no: [p3NoCoreP, p3NoCoreLeft, p3NoCoreRight]
}, countsPanel3, [.4, .55, .7]);
</script>
</body>
</html>
